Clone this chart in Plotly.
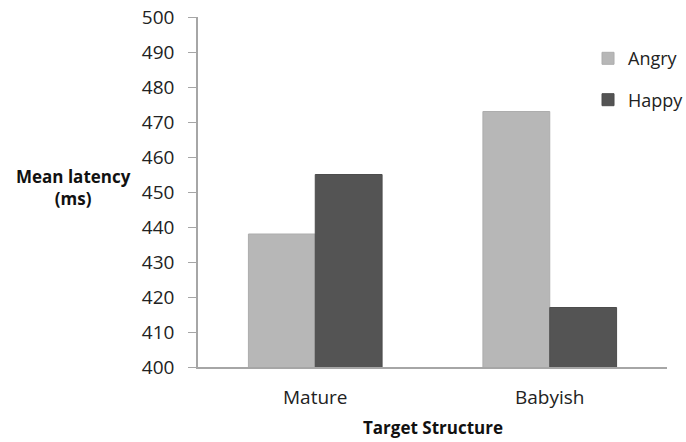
import plotly.graph_objects as go

categories = ["Mature", "Babyish"]
angry = [438, 473]
happy = [455, 417]
y_ticks = list(range(400, 501, 10))

font_family = "Open Sans, Liberation Sans, sans-serif"

fig = go.Figure()
fig.add_trace(go.Bar(x=categories, y=angry, name="Angry",
                     marker=dict(color="#b7b7b7", line=dict(color="#adadad", width=1)),
                     legendgroup="a"))
fig.add_trace(go.Bar(x=categories, y=happy, name="Happy",
                     marker=dict(color="#545454", line=dict(color="#4c4c4c", width=1)),
                     legendgroup="h"))

fig.update_layout(
    width=686, height=442, autosize=False,
    margin=dict(l=198, r=19, t=17, b=75, autoexpand=False),
    paper_bgcolor="white", plot_bgcolor="white",
    barmode="group", bargap=0.43, bargroupgap=0,
    font=dict(family=font_family, size=19, color="#222222"),
    legend=dict(x=0.8316, y=0.934, xanchor="left", yanchor="top",
                font=dict(size=18, color="#222222"), tracegroupgap=15,
                bgcolor="rgba(0,0,0,0)"),
    showlegend=True,
)
fig.update_xaxes(showline=True, linecolor="#a6a6a6", linewidth=1.5, ticks="",
                 showgrid=False, ticklabelstandoff=12, tickfont=dict(size=19),
                 automargin=False)
fig.update_yaxes(range=[400, 500], tickvals=y_ticks, showline=True, linecolor="#a6a6a6",
                 linewidth=1.5, ticks="outside", ticklen=8, tickcolor="#a6a6a6",
                 showgrid=False, zeroline=False, tickfont=dict(size=19),
                 ticklabelstandoff=10, automargin=False, ticklabeloverflow="allow")

fig.add_annotation(text="<b>Mean latency<br>(ms)</b>", xref="paper", yref="paper",
                   x=-0.265, y=0.514, xanchor="center", yanchor="middle", showarrow=False,
                   font=dict(size=17, color="#111111"), align="center")
fig.add_annotation(text="<b>Target Structure</b>", xref="paper", yref="paper",
                   x=0.5, y=-0.174, xanchor="center", yanchor="middle", showarrow=False,
                   font=dict(size=17, color="#111111"))

fig.write_html("out.html", config={"displayModeBar": False},
               post_script="document.body.style.margin='0';document.body.style.overflow='hidden';")
